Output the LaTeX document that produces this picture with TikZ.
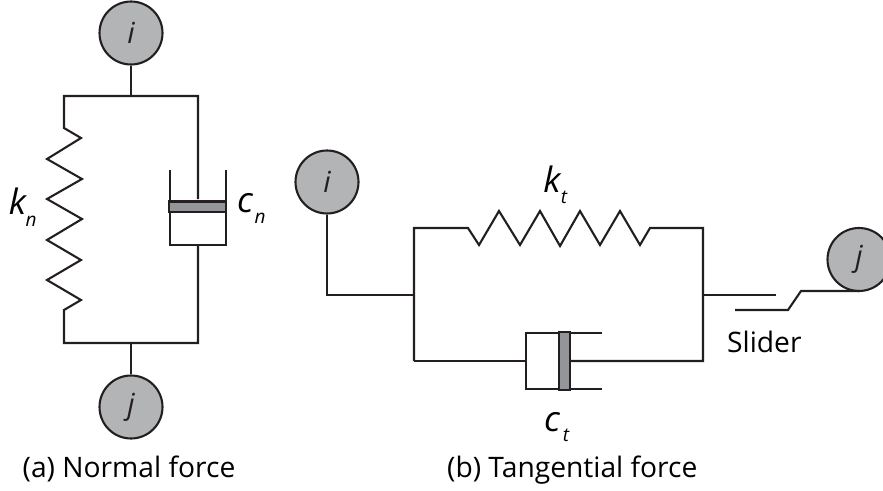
\documentclass[tikz,border=0pt]{standalone}
\usepackage{fontspec}
\setmainfont{Open Sans}
\definecolor{ink}{HTML}{231F20}
\definecolor{ball}{HTML}{B3B4B6}
\definecolor{pist}{HTML}{939598}
\tikzset{
  ballnode/.style={circle,draw=ink,line width=2.1pt,fill=ball,minimum size=63pt,inner sep=0pt,font=\fontsize{29}{29}\selectfont\itshape,text=ink},
  wire/.style={draw=ink,line width=2.1pt,line join=miter},
  piston/.style={draw=ink,line width=2.1pt,fill=pist},
  captext/.style={font=\fontsize{28.2}{28.2}\selectfont,text=black,inner sep=0pt},
  sym/.style={font=\fontsize{35}{35}\selectfont\itshape,text=black,inner sep=0pt},
  subs/.style={font=\fontsize{19}{19}\selectfont\itshape,text=black,inner sep=0pt}
}
\begin{document}
\begin{tikzpicture}[x=1pt,y=-1pt]
\useasboundingbox (0,0) rectangle (883,490);
\clip (0,0) rectangle (883,490);
% (a)
\node[ballnode] (ia) at (131,33) {i};
\node[ballnode] (ja) at (131,407) {j};
\coordinate (ta) at (131,96);
\coordinate (ba) at (131,343);
\draw[wire] (ia) -- (ta);
\draw[wire] (ja) -- (ba);
\draw[wire] (198,245) -- (198,343) -- (64,343) -- (64,310) -- (81,300) -- (47,280) -- (81,260) -- (47,240) -- (82,219) -- (47,199) -- (82,179) -- (47,159) -- (81,138) -- (64,128) -- (64,96) -- (198,96) -- (198,199);
\draw[wire] (170,170) -- (170,245) -- (226,245) -- (226,170);
\draw[piston] (169,201.5) rectangle (226,212);
\node[sym] at (17.5,201) {k};
\node[subs] at (31,221) {n};
\node[sym] at (245,203) {c};
\node[subs] at (260,218) {n};
\node[captext,anchor=base west] at (22.5,477) {(a) Normal force};
% (b)
\node[ballnode] (ib) at (327,182) {i};
\node[ballnode] (jb) at (859,259.5) {j};
\coordinate (hb) at (414,295);
\draw[wire] (ib) -- (327,295) -- (hb);
\draw[wire] (414,361) -- (414,228) -- (468,228) -- (479,245) -- (499,211) -- (520,245) -- (540,211) -- (560,246) -- (580,211) -- (600,245) -- (620,211) -- (640,245) -- (650,228) -- (703,228) -- (703,361) -- (570,361);
\draw[wire] (414,361) -- (526,361);
\draw[wire] (602,333) -- (526,333) -- (526,389) -- (602,389);
\draw[piston] (559,332) rectangle (570,390);
\draw[wire] (703,295) -- (776,295);
\draw[wire] (735,310) -- (788,310) -- (801,291) -- (jb.south |- 0,291);
\node[sym] at (552,179) {k};
\node[subs] at (564,197) {t};
\node[sym] at (552,422) {c};
\node[subs] at (566,435) {t};
\node[captext,anchor=base west] at (727,352) {Slider};
\node[captext,anchor=base west] at (447,477) {(b) Tangential force};
\end{tikzpicture}
\end{document}
